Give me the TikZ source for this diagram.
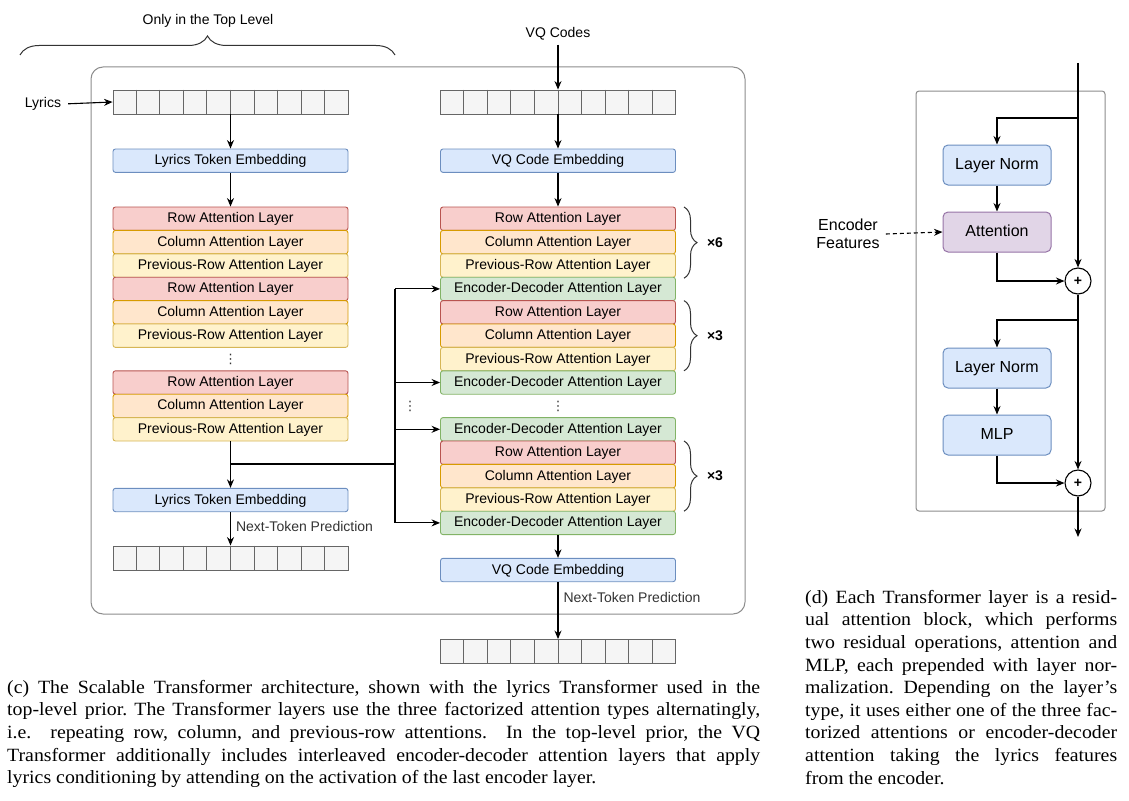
\documentclass[tikz,border=0pt]{standalone}
\usepackage{fontspec}
\setmainfont{Liberation Sans}
\newfontfamily\capfont{Liberation Serif}[FakeStretch=1.06]
\newfontfamily\dotfont{DejaVu Sans}
\usetikzlibrary{arrows.meta,decorations.pathreplacing,calc}
\definecolor{redF}{HTML}{F8CECC}\definecolor{redD}{HTML}{B85450}
\definecolor{oraF}{HTML}{FFE6CC}\definecolor{oraD}{HTML}{D79B00}
\definecolor{yelF}{HTML}{FFF2CC}\definecolor{yelD}{HTML}{D6B656}
\definecolor{grnF}{HTML}{D5E8D4}\definecolor{grnD}{HTML}{82B366}
\definecolor{bluF}{HTML}{DAE8FC}\definecolor{bluD}{HTML}{6C8EBF}
\definecolor{purF}{HTML}{E1D5E7}\definecolor{purD}{HTML}{9673A6}
\definecolor{tokF}{HTML}{F5F5F5}\definecolor{tokD}{HTML}{666666}
\definecolor{frameC}{HTML}{8C8C8C}
\definecolor{txtG}{HTML}{333333}
\begin{document}
\begin{tikzpicture}[x=1pt,y=-1pt,
  layer/.style={draw, rounded corners=2.5pt, minimum width=235pt, minimum height=23.4pt, inner sep=0pt, line width=0.9pt, text height=10.5pt, text depth=2.5pt, font=\fontsize{14}{16}\selectfont},
  rowL/.style={layer, fill=redF, draw=redD},
  colL/.style={layer, fill=oraF, draw=oraD},
  prevL/.style={layer, fill=yelF, draw=yelD},
  encL/.style={layer, fill=grnF, draw=grnD},
  embL/.style={layer, fill=bluF, draw=bluD},
  tokrow/.style={draw=tokD, fill=tokF, minimum width=235pt, minimum height=24pt, inner sep=0pt, line width=0.9pt},
  lbl/.style={font=\fontsize{14}{16}\selectfont, inner sep=2pt},
  ntp/.style={font=\fontsize{14}{16}\selectfont, text=txtG, anchor=west, inner sep=0pt},
  vdot/.style={font=\dotfont\fontsize{13}{15}\selectfont, text=txtG, inner sep=0pt},
  arr/.style={-{Stealth[length=8.5pt,width=7pt]}, line width=1.1pt},
  plainline/.style={line width=1.1pt},
  bracestyle/.style={decorate, decoration={brace, amplitude=#1}, line width=1pt, draw=txtG},
  times/.style={font=\fontsize{14}{16}\bfseries\selectfont, inner sep=0pt},
  dbox/.style={draw, rounded corners=5pt, minimum width=108pt, minimum height=40pt, inner sep=0pt, line width=1pt, text height=11.5pt, text depth=3pt, font=\fontsize{16}{18}\selectfont},
  plus/.style={circle, draw, minimum size=26pt, inner sep=0pt, line width=1.1pt, font=\fontsize{14}{16}\bfseries\selectfont},
  frame/.style={draw=frameC, line width=1pt},
  caption/.style={anchor=north west, inner sep=0pt, align=left, font=\capfont\fontsize{18.7}{22.6}\selectfont\frenchspacing}
]
\useasboundingbox (0,0) rectangle (1129,800);

% ---------- panel (c) ----------
\draw[frame, rounded corners=12pt] (91,67) rectangle (745,614);
\draw[bracestyle=19pt] (20,55) -- (395,55);
\node[lbl] (top) at (208,21) {Only in the Top Level};

\node[lbl] (lyr) at (43,104) {Lyrics};
\node[lbl] (vqc) at (558,34) {VQ Codes};

\node[tokrow] (tokL) at (230.5,102) {};
\node[tokrow] (tokR) at (558,102) {};
\node[tokrow] (tokL2) at (230.5,558) {};
\node[tokrow] (tokR2) at (558,651.5) {};
\foreach \t in {tokL,tokR,tokL2,tokR2}{
  \foreach \i in {1,...,9}{
    \draw[tokD, line width=0.9pt] ($(\t.north west)!0.\i!(\t.north east)$) -- ($(\t.south west)!0.\i!(\t.south east)$);
  }
}

\node[embL] (lte) at (230.5,160.7) {Lyrics Token Embedding};
\node[embL] (vqe) at (558,160.7) {VQ Code Embedding};

% left stack
\node[rowL]  (l1) at (230.5,218.7) {Row Attention Layer};
\node[colL]  (l2) at (230.5,242.1) {Column Attention Layer};
\node[prevL] (l3) at (230.5,265.5) {Previous-Row Attention Layer};
\node[rowL]  (l4) at (230.5,288.9) {Row Attention Layer};
\node[colL]  (l5) at (230.5,312.3) {Column Attention Layer};
\node[prevL] (l6) at (230.5,335.7) {Previous-Row Attention Layer};
\node[vdot]  (ld) at (230.5,359) {⋮};
\node[rowL]  (l7) at (230.5,382.5) {Row Attention Layer};
\node[colL]  (l8) at (230.5,405.9) {Column Attention Layer};
\node[prevL] (l9) at (230.5,429.3) {Previous-Row Attention Layer};

\node[embL] (lte2) at (230.5,500) {Lyrics Token Embedding};

% right stack
\node[rowL]  (r1)  at (558,218.7) {Row Attention Layer};
\node[colL]  (r2)  at (558,242.1) {Column Attention Layer};
\node[prevL] (r3)  at (558,265.5) {Previous-Row Attention Layer};
\node[encL]  (r4)  at (558,288.9) {Encoder-Decoder Attention Layer};
\node[rowL]  (r5)  at (558,312.3) {Row Attention Layer};
\node[colL]  (r6)  at (558,335.7) {Column Attention Layer};
\node[prevL] (r7)  at (558,359.1) {Previous-Row Attention Layer};
\node[encL]  (r8)  at (558,382.5) {Encoder-Decoder Attention Layer};
\node[vdot]  (rd)  at (558,406) {⋮};
\node[encL]  (r9)  at (558,429.3) {Encoder-Decoder Attention Layer};
\node[rowL]  (r10) at (558,452.7) {Row Attention Layer};
\node[colL]  (r11) at (558,476.1) {Column Attention Layer};
\node[prevL] (r12) at (558,499.5) {Previous-Row Attention Layer};
\node[encL]  (r13) at (558,522.9) {Encoder-Decoder Attention Layer};

\node[embL] (vqe2) at (558,570) {VQ Code Embedding};

\node[vdot] (bd) at (410,406) {⋮};

% braces and repeat labels
\draw[bracestyle=13pt] (684,207) -- (684,278.2);
\draw[bracestyle=13pt] (684,300.6) -- (684,370.8);
\draw[bracestyle=13pt] (684,441) -- (684,511.2);
\node[times] (x6) at (715,243) {×6};
\node[times] (x3a) at (715,336) {×3};
\node[times] (x3b) at (715,476) {×3};

% connectors (c)
\draw[arr, shorten <=5pt] (lyr.east) -- (tokL.west);
\draw[arr] (tokL.south) -- (lte.north);
\draw[arr] (lte.south) -- (l1.north);
\draw[arr, shorten <=2pt] (vqc.south) -- (tokR.north);
\draw[arr] (tokR.south) -- (vqe.north);
\draw[arr] (vqe.south) -- (r1.north);
\draw[arr] (l9.south) -- (lte2.north);
\coordinate (jn) at (230.5,464);
\coordinate (bus) at (395,464);
\draw[plainline] (jn) -- (bus);
\draw[plainline] (bus |- r4) -- (bus |- r13);
\foreach \r in {r4,r8,r9,r13}{ \draw[arr] (bus |- \r) -- (\r.west); }
\draw[arr] (r13.south) -- (vqe2.north);
\draw[arr] (lte2.south) -- (tokL2.north) node[ntp, pos=0.42, xshift=5pt] (ntp1) {Next-Token Prediction};
\draw[arr] (vqe2.south) -- (tokR2.north) node[ntp, pos=0.27, xshift=5pt] (ntp2) {Next-Token Prediction};

% ---------- panel (d) ----------
\draw[frame, rounded corners=3pt] (916,91) rectangle (1105,511);
\node[dbox, fill=bluF, draw=bluD] (ln1) at (997,165) {Layer Norm};
\node[dbox, fill=purF, draw=purD] (att) at (997,232) {Attention};
\node[dbox, fill=bluF, draw=bluD] (ln2) at (997,368) {Layer Norm};
\node[dbox, fill=bluF, draw=bluD] (mlp) at (997,435) {MLP};
\node[plus] (p1) at (1078,281) {+};
\node[plus] (p2) at (1078,483) {+};
\node[align=center, font=\fontsize{16}{18}\selectfont, inner sep=1pt] (encf) at (848,234) {Encoder\\Features};
\coordinate (dtop) at (1078,63);
\coordinate (dbot) at (1078,537);
\coordinate (b1) at (1078,118);
\coordinate (b2) at (1078,320);

\draw[arr] (dtop) -- (p1.north);
\draw[arr] (p1.south) -- (p2.north);
\draw[arr] (p2.south) -- (dbot);
\draw[arr] (b1) -| (ln1.north);
\draw[arr] (ln1.south) -- (att.north);
\draw[arr] (att.south) |- (p1.west);
\draw[arr, dashed, dash pattern=on 4pt off 3pt] (encf.east) ++(5pt,0) -- (att.west);
\draw[arr] (b2) -| (ln2.north);
\draw[arr] (ln2.south) -- (mlp.north);
\draw[arr] (mlp.south) |- (p2.west);

% ---------- captions ----------
\node[caption] (capc) at (7,680) {%
\makebox[753pt][s]{(c) The Scalable Transformer architecture, shown with the lyrics Transformer used in the}\\
\makebox[753pt][s]{top-level prior. The Transformer layers use the three factorized attention types alternatingly,}\\
\makebox[753pt][s]{i.e.\ \ repeating row, column, and previous-row attentions.\ \ In the top-level prior, the VQ}\\
\makebox[753pt][s]{Transformer additionally includes interleaved encoder-decoder attention layers that apply}\\
lyrics conditioning by attending on the activation of the last encoder layer.};

\node[caption] (capd) at (805,590) {%
\makebox[312pt][s]{(d) Each Transformer layer is a resid-}\\
\makebox[312pt][s]{ual attention block, which performs}\\
\makebox[312pt][s]{two residual operations, attention and}\\
\makebox[312pt][s]{MLP, each prepended with layer nor-}\\
\makebox[312pt][s]{malization. Depending on the layer’s}\\
\makebox[312pt][s]{type, it uses either one of the three fac-}\\
\makebox[312pt][s]{torized attentions or encoder-decoder}\\
\makebox[312pt][s]{attention taking the lyrics features}\\
from the encoder.};
\end{tikzpicture}
\end{document}
